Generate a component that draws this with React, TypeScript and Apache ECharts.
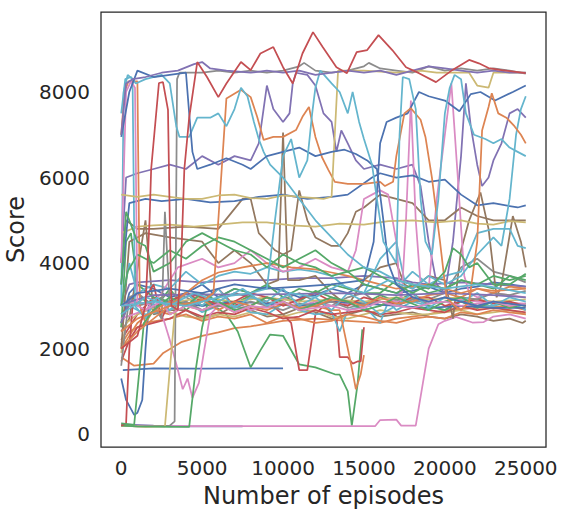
import React, { useEffect, useRef } from "react";
import * as echarts from "echarts";

// seaborn "deep" palette
const BLUE = "#4C72B0", ORANGE = "#DD8452", GREEN = "#55A868", RED = "#C44E52", PURPLE = "#8172B3";
const BROWN = "#937860", PINK = "#DA8BC3", GRAY = "#8C8C8C", YELLOW = "#CCB974", CYAN = "#64B5CD";

const X_TICKS = [0, 5000, 10000, 15000, 20000, 25000];
const Y_TICKS = [0, 2000, 4000, 6000, 8000];

// each run: [episode, score] points
const redTop = [[0,2000],[1000,2300],[1500,3000],[1750,5000],[1850,6200],[2330,8210],[2580,8230],[2890,7580],[3000,5000],[3100,3000],[3500,2900],[3700,4000],[3900,6200],[4200,7400],[4700,8700],[5300,8350],[6000,7880],[6500,8200],[7400,8700],[8000,8510],[8600,8900],[9400,9050],[10000,8580],[10600,8200],[11200,8900],[11850,9400],[12450,9050],[13300,8580],[13950,8440],[14550,8930],[15200,8980],[15900,9330],[16750,8980],[17600,8580],[18400,8440],[19450,8230],[20450,8510],[21500,8750],[22100,8670],[22700,8560],[23500,8510],[25000,8440]];
const purpleTop = [[0,7000],[300,8200],[700,8300],[1500,8350],[2500,8450],[3500,8500],[4500,8650],[5000,8700],[5500,8550],[6500,8500],[8000,8450],[9000,8500],[10000,8450],[11000,8500],[12000,8400],[13000,8450],[14000,8500],[15000,8450],[16000,8500],[17000,8400],[18000,8500],[19000,8600],[20000,8550],[21000,8500],[22000,8450],[23000,8500],[24000,8450],[25000,8450]];
const grayTop = [[0,200],[1000,180],[2000,190],[3000,200],[3300,300],[3450,8300],[3600,8450],[5000,8450],[6000,8500],[7000,8450],[8000,8500],[9000,8450],[10000,8500],[11000,8600],[11300,8680],[12000,8500],[13000,8450],[14000,8500],[15000,8600],[15300,8680],[16000,8550],[17000,8500],[18000,8450],[19000,8600],[20000,8500],[21000,8550],[22000,8500],[23000,8550],[24000,8500],[25000,8430]];
const yellowJump = [[0,5600],[1000,5550],[2000,5600],[3000,5550],[4000,5500],[5000,5500],[6000,5580],[7000,5600],[8000,5520],[9000,5500],[10000,5580],[11000,5550],[12000,5520],[12500,5500],[13000,5550],[13400,8500],[15000,8500],[17000,8450],[18500,8500],[19500,8450],[21500,8450],[22000,8150],[22700,8100],[23000,8450],[25000,8450]];
const yellowMid = [[0,4700],[1000,4850],[2000,4880],[3000,4900],[4500,4850],[6000,4900],[7500,4950],[9000,4950],[10500,4880],[12000,4850],[13500,4920],[15000,4900],[16500,4980],[18000,5000],[19500,4950],[21000,5000],[22000,4920],[23000,4900],[24000,4980],[25000,4950]];
const blueTop = [[0,6950],[500,8000],[1000,8500],[2000,8350],[3000,8400],[4000,8450],[4200,7500],[4400,6600],[4700,6200],[5500,6300],[6500,6450],[7500,6300],[8000,6200],[9000,6500],[10000,6600],[11000,6700],[12000,6500],[13000,6600],[13800,6650],[14500,6550],[15200,6400],[15800,6200],[16200,5000],[16500,4000],[17000,3500],[18000,3200],[19000,3100],[20000,3200],[21000,3100],[22000,3000],[23000,3100],[24000,3050],[25000,3000]];
const blueRise = [[0,3000],[1000,3300],[3000,3400],[5000,3300],[7000,3500],[9000,3400],[11000,3450],[13000,3500],[15000,3600],[15600,4500],[16000,6800],[16400,7300],[17000,7400],[17700,7500],[18400,8000],[19000,7900],[20000,7800],[20900,7550],[21600,7950],[22200,8000],[23100,7800],[24200,8000],[25000,8150]];
const blueMid = [[0,3500],[500,5400],[1500,5500],[2500,5450],[4000,5500],[5500,5420],[7000,5450],[8500,5550],[10000,5600],[11500,5500],[13000,5550],[14000,5600],[15500,6000],[16000,6100],[17000,6000],[18000,6050],[19000,5900],[20000,5950],[21000,5600],[22000,5350],[23000,5400],[24500,5300],[25000,5350]];
const orangeSpike = [[0,7000],[200,8000],[450,8250],[1000,8250],[1150,3000],[1500,2600],[2000,2900],[3000,3100],[4000,3000],[5000,3150],[6000,2900],[7000,3100],[8000,3000],[9000,3200],[10000,3100],[11000,2950],[12000,3000],[13000,3150],[14000,3100],[15000,3000],[16000,3200],[17000,3050],[18000,3100],[19000,3250],[20000,3300],[21000,3200],[22000,3400],[23000,3300],[24000,3450],[25000,3400]];
const orangeHigh = [[0,2400],[1000,2700],[3000,3000],[5000,3100],[5700,3300],[6000,5000],[6500,7850],[7400,8050],[8000,7880],[8400,7420],[8800,6880],[9400,6950],[10000,6950],[10800,7110],[11200,7420],[11600,7650],[12000,6950],[12400,6480],[12800,6180],[13200,5900],[14000,5850],[15000,5850],[16000,5900],[16300,5800],[16800,5900],[17000,6500],[17500,7500],[17900,7620],[18500,7350],[18800,6950],[19200,6000],[19700,4500],[20100,3200],[20600,3000],[21000,2900],[21500,3100],[22000,4500],[22300,7100],[22700,7650],[22900,7970],[23300,7500],[23800,7400],[24300,7200],[24700,7000],[25000,6800]];
const pinkSpike = [[0,4000],[300,8000],[600,8250],[850,8100],[1000,3000],[1500,2900],[2500,3100],[3000,2800],[4000,3000],[5000,2900],[6000,3050],[7000,2850],[8000,3000],[9000,2950],[10000,3100],[11000,2900],[12000,2950],[13000,3000],[14000,2900],[15000,2950],[16000,3100],[17000,3000],[18000,2950],[19000,3050],[20000,3100],[21000,3000],[22000,3050],[23000,3100],[24000,3000],[25000,3050]];
const cyanSpike = [[0,3000],[150,8000],[400,8400],[700,8300],[850,3000],[1500,2700],[2200,3200],[3000,2900],[4000,3300],[5000,3000],[6000,3400],[7000,2950],[8000,3200],[9000,3100],[10000,3400],[11000,3000],[12000,3200],[13000,2900],[14000,3300],[15000,3100],[16000,2800],[17000,3000],[18000,3300],[19000,2950],[20000,3200],[21000,3100],[22000,3300],[23000,3000],[24000,3200],[25000,3100]];
const cyanA = [[0,7500],[250,8300],[600,8350],[900,8200],[1500,8300],[2500,8400],[3000,8200],[3400,7200],[3600,6950],[4200,6950],[4700,7400],[5500,7400],[6000,7500],[6500,7200],[7000,7600],[7400,8100],[7800,7900],[8200,7300],[8500,6900],[8800,6600],[9200,6300],[10000,6000],[11000,5500],[12000,5000],[13000,4600],[14000,4200],[15000,3900],[16000,3800],[17000,3600],[18000,3500],[20000,3400],[22000,3500],[25000,3300]];
const cyanB = [[0,3000],[2000,3100],[4000,3000],[6000,3200],[8000,3300],[9000,3400],[9500,5000],[10000,6500],[10500,6900],[11000,6000],[11500,6400],[11800,7500],[12000,8100],[12300,8500],[13000,8200],[13500,8000],[14000,7500],[14300,8000],[14700,7300],[15000,6900],[15500,6300],[15800,5500],[16200,4500],[17000,4000],[17200,7000],[17400,8350],[17800,8300],[18200,7600],[18500,5500],[18800,4500],[19200,4200],[19600,5500],[20000,7500],[20300,8100],[20600,8400],[21000,8300],[21300,7500],[21800,7000],[22500,6900],[23000,6800],[23500,6900],[24000,6700],[24500,6600],[25000,6500]];
const cyanLate = [[0,2800],[1500,3200],[3000,3000],[4500,3300],[6000,3100],[7500,3400],[9000,3000],[10500,3300],[12000,3200],[13500,3500],[15000,3300],[16500,3600],[18000,3400],[19000,3700],[20000,3500],[21000,3700],[22000,4200],[23000,4600],[23500,4400],[24000,5500],[24400,7000],[24700,7600],[25000,7900]];
const cyanMid = [[0,3000],[500,4000],[1000,3300],[2000,3500],[3000,3400],[4000,3800],[5000,3500],[6000,3700],[7000,3800],[8000,3750],[9000,3900],[10000,3800],[11000,3850],[12000,3800],[13000,3700],[14000,3400],[15000,3300],[16000,4100],[17000,4500],[17500,3600],[18000,3800],[19000,3500],[20000,3700],[21000,3800],[22000,4700],[23000,4800],[24000,4800],[24500,4400],[25000,4350]];
const purpleHigh = [[0,4000],[300,6000],[1000,6100],[2000,6200],[3000,6300],[4000,6200],[5000,6500],[6000,6300],[7000,6500],[8000,6400],[8500,6800],[9000,8150],[9400,7600],[10000,7300],[10400,7500],[10600,8200],[10800,8450],[11500,8400],[12000,8150],[12500,7500],[13000,7300],[13300,6600],[13600,7100],[14000,6800],[14500,6400],[15000,6200],[16000,6300],[17000,6200],[18000,6300],[18500,5800],[19000,4500],[19500,3500],[20000,3300],[20500,4500],[21000,6500],[21300,8200],[21600,7200],[22000,6300],[22300,5800],[22700,6000],[23000,6400],[23500,6800],[24000,7500],[24500,7600],[25000,7400]];
const brownHigh = [[0,4000],[300,5000],[1000,4800],[2000,4800],[4000,4850],[6000,4800],[7500,5500],[8000,5500],[8500,4700],[9500,4300],[10000,4200],[10500,4300],[11000,5700],[11500,5000],[12000,4600],[13000,4400],[13500,4400],[14000,4700],[14500,5200],[15000,5300],[16000,5600],[17000,5500],[18000,5400],[19000,5000],[20000,5000],[21000,5300],[22000,5100],[23000,5000],[24000,5000],[25000,5000]];
const brownSwing = [[0,2000],[500,4500],[1500,4700],[3000,4600],[5000,4500],[6000,4000],[7000,4300],[8000,4000],[9000,3500],[9700,3600],[10000,7050],[10300,3600],[11000,3600],[12000,3700],[13000,3300],[14000,3000],[15000,3600],[16000,3900],[17000,4000],[17500,3500],[18000,3400],[19000,3700],[20000,3600],[20500,2700],[21000,4300],[21500,5000],[22200,5650],[22700,4800],[23200,3200],[23500,3500],[24200,5100],[24700,4500],[25000,3900]];
const greenHigh = [[0,3500],[300,5200],[600,4900],[1000,4500],[1500,4400],[2000,3800],[3000,4000],[4000,4500],[5000,4700],[6000,4500],[7000,4300],[8000,4200],[9000,3900],[10000,4200],[11000,4000],[12000,3900],[13000,3700],[14000,3800],[15000,3500],[16000,3400],[17000,3300],[18000,3500],[19000,3400],[20000,3800],[20500,4350],[21000,4200],[21500,3900],[22000,4000],[23000,3500],[24000,3500],[25000,3750]];
const grayBand = [[0,2500],[500,3200],[1000,3000],[2000,3100],[3000,3300],[4000,3200],[5000,3000],[6000,3100],[7000,3300],[8000,3200],[9000,3050],[10000,3150],[11000,3300],[12000,3100],[13000,3000],[14000,3200],[15000,3300],[16000,3000],[17000,3150],[18000,3100],[19000,3150],[20000,3300],[21000,3900],[22000,4100],[23000,3800],[24000,3700],[25000,3550]];
const redDip = [[0,2200],[1000,2800],[2000,3200],[3000,3000],[4000,3300],[5000,3100],[6000,3400],[7000,3000],[8000,3200],[9000,3100],[10000,2800],[10500,2600],[11000,1500],[11500,1500],[12000,2800],[12500,3000],[13300,2750],[13500,1800],[14000,1800],[14300,1650],[14600,1700],[14800,1700],[15000,2500]];
const orangeDip = [[0,2000],[1000,2600],[2000,2900],[3000,2800],[4000,3000],[5000,2900],[6000,3050],[7000,2850],[8000,3000],[9000,2900],[10000,3050],[11000,2950],[12000,3000],[13000,2900],[13500,2900],[14000,2000],[14300,1450],[14500,1050],[14800,1400],[15000,1850]];
const orangeSlow = [[0,1800],[800,1600],[2000,1650],[2600,1900],[3700,2150],[5000,2300],[6000,2380],[7000,2480],[8000,2520],[10000,2650],[12000,2700],[14000,2650],[16000,2600],[17000,2700],[18000,2750],[19000,2800],[20000,2900],[22000,2950],[24000,3000],[25000,2900]];
const orangeMid = [[0,2000],[1000,2400],[2000,2700],[3000,3000],[4000,3300],[5000,3600],[6000,3780],[7500,3900],[9000,4000],[10500,3900],[12000,3850],[13000,3780],[14000,3700],[15000,3600],[16000,3500],[17000,3400],[18000,3450],[19000,3500],[20000,3400],[21000,3300],[22000,3400],[23000,3350],[25000,3400]];
const greenDip = [[0,2800],[1000,3300],[2000,2900],[3000,3400],[4000,2900],[5000,3200],[6500,2800],[7200,2400],[8000,1560],[8600,1960],[9200,2330],[10000,2300],[11000,1630],[12000,1560],[13200,1400],[13500,1390],[14000,1000],[14250,200],[14600,1150],[14900,2450]];
const purpleBand = [[0,3000],[500,3500],[1000,3550],[3000,3600],[5000,3550],[7000,3600],[9000,3600],[11000,3650],[13000,3650],[15000,3700],[17000,3650],[18000,3550],[19000,3500],[21000,3550],[23000,3500],[25000,3450]];
const purpleBand2 = [[0,2600],[500,3100],[2000,3250],[5000,3270],[8000,3260],[11000,3280],[14000,3300],[17000,3250],[20000,3300],[23000,3250],[25000,3200]];
const blueBand = [[0,2600],[500,3300],[1000,3500],[2000,3400],[3000,3200],[4000,3300],[5000,3500],[6000,3200],[7000,3400],[8000,3300],[9000,3450],[10000,3350],[11000,3200],[12000,3250],[13000,3400],[14000,3300],[15000,3500],[16000,3400],[17000,3300],[18000,3350],[19000,3450],[20000,3300],[21000,3400],[22000,3450],[23000,3550],[24000,3500],[25000,3450]];
const redBand = [[0,1700],[500,2200],[1000,2500],[2000,2600],[3000,2700],[4000,2900],[5000,2750],[6000,2850],[7000,2800],[8000,2950],[9000,2850],[10000,2700],[11000,2750],[12000,2900],[13000,2800],[14000,2850],[15000,2900],[16000,2800],[17000,2850],[18000,2950],[19000,2900],[20000,2850],[21000,3000],[22000,2900],[23000,2950],[24000,2900],[25000,2850]];
const orangeBand = [[0,2100],[500,2400],[1500,2600],[3000,2700],[4000,2800],[5000,2650],[6000,2750],[7000,2700],[8000,2800],[9000,2600],[10000,2750],[11000,2700],[12000,2600],[13000,2650],[14000,2800],[15000,2750],[16000,2650],[17000,2600],[18000,2700],[19000,2750],[20000,2700],[21000,2850],[22000,2800],[23000,2900],[24000,2850],[25000,2800]];
const greenBand = [[0,2500],[300,4500],[600,4700],[1000,3500],[2000,3200],[3000,3100],[4000,3300],[5000,3000],[6000,3150],[7000,3050],[8000,3250],[9000,3000],[10000,3200],[11000,3100],[12000,3350],[13000,3200],[14000,3100],[15000,3050],[16000,3250],[17000,3100],[18000,3300],[19000,3000],[20000,2900],[21000,3100],[22000,2950],[23000,3100],[24000,3050],[25000,3000]];
const greenBand2 = [[0,3000],[400,3800],[1000,4200],[2000,4000],[3000,4300],[4000,4100],[5000,4400],[6000,4600],[7000,4500],[8000,4300],[9000,4100],[10000,3900],[11000,4100],[12000,4300],[13000,4000],[14000,3800],[15000,3900],[16000,3700],[17000,3500],[18000,3300],[19000,3500],[20000,3400],[21000,3600],[22000,3500],[23000,3700],[24000,3600],[25000,3700]];
const cyanBand = [[0,2800],[500,3000],[1500,2800],[3000,2900],[4000,3100],[5000,2850],[6000,3000],[7000,3000],[8000,2850],[9000,2800],[10000,3050],[11000,2900],[12000,2800],[13000,2850],[13500,2400],[14000,2900],[15000,3000],[16000,2600],[16500,3100],[17000,2900],[18000,3100],[19000,3000],[20000,2900],[21000,3100],[22000,3000],[23000,3000],[24000,3100],[25000,2900]];
const brownBand = [[0,2400],[500,2700],[1500,5000],[2000,2800],[3000,2900],[4000,2900],[5000,2700],[6000,2800],[7000,3000],[8000,2900],[9000,2750],[10000,2800],[11000,2950],[12000,2850],[13000,2700],[14000,2800],[15000,2900],[16000,2750],[17000,2800],[18000,2850],[19000,2750],[20000,2700],[21000,2800],[22000,2750],[23000,2650],[24000,2700],[24800,2600],[25000,2650]];
const grayBand2 = [[0,1600],[200,2300],[500,3200],[1000,3300],[2000,3000],[2500,2700],[2700,5200],[3000,3000],[4000,3100],[5000,2900],[6000,3000],[7000,2950],[8000,3100],[9000,3000],[10000,2900],[11000,3050],[12000,3000],[13000,3100],[14000,2950],[15000,3050],[16000,3100],[17000,3000],[18000,3150],[19000,3050],[20000,3100],[21000,3200],[22000,3150],[23000,3300],[24000,3250],[25000,3350]];
const yellowBand = [[0,1900],[300,2600],[1000,2800],[2000,2950],[3000,2850],[4000,2750],[5000,2700],[6000,2800],[7000,2750],[8000,2850],[9000,2800],[10000,2750],[11000,2850],[12000,2900],[13000,2750],[14000,2700],[15000,2800],[16000,2900],[17000,2850],[18000,2800],[19000,2800],[20000,2850],[21000,2900],[22000,2800],[23000,2850],[24000,2900],[25000,2800]];
const pinkDrop = [[0,3000],[1000,3100],[2000,3000],[2600,2700],[3000,2200],[3500,1500],[3800,1050],[4100,1300],[4400,850],[4800,1200],[5100,1900],[5500,2800],[6000,3000],[7000,3100],[8000,2900],[9000,3000],[10000,3200],[11000,3000],[12000,3100],[13000,3000],[14000,3050],[15000,2950],[16000,3200],[17000,3100],[18000,3150],[19000,3100],[20000,3200],[22000,3100],[25000,3050]];
const pinkPeaks = [[0,2700],[1500,2900],[2500,3300],[3500,3900],[5000,4100],[6000,3900],[7000,4000],[8000,4300],[9000,4000],[10000,3800],[11000,3900],[12000,4100],[13000,3900],[14000,3800],[14500,4300],[15000,5500],[15500,5600],[16000,5700],[16500,5600],[17000,4500],[17300,3000],[17600,5000],[17900,7800],[18200,5000],[18500,3500],[19000,3400],[19500,5500],[20000,7000],[20400,8200],[20800,6000],[21200,3700],[21500,3300],[22000,3200],[23000,3300],[25000,3200]];
const purpleLow = [[0,230],[2000,200],[4000,180],[6000,180],[7500,180]];
const pinkLow = [[0,250],[500,200],[2000,190],[7400,190],[15700,190],[16000,330],[17000,340],[17300,200],[18200,200],[19000,2000],[19600,2570],[20000,2650],[20700,2740],[21000,2700],[21700,2610],[22400,2620],[23000,2750],[24000,2800],[25000,2700]];
const blueFlat = [[100,1500],[2000,1540],[5000,1530],[8000,1540],[10000,1540]];
const greenLate = [[0,200],[1000,180],[3000,170],[4200,170],[4600,1500],[5000,2500],[5300,3000],[6000,3200],[7000,3400],[8000,3300],[9000,3500],[10000,3200],[11000,3400],[12000,3300],[13000,3500],[14000,3400],[15000,3300],[16000,3300],[17000,3600],[18000,3500],[19000,3300],[20000,3400],[21000,3600],[22000,3500],[23000,3400],[24000,3700],[25000,3600]];
const yellowLate = [[0,200],[1500,170],[2700,180],[3000,1500],[3300,2800],[3600,3100],[5000,3200],[7000,3100],[9000,3200],[11000,3100],[13000,3150],[15000,3100],[17000,3200],[19000,3150],[21000,3200],[23000,3100],[25000,3150]];
const greenEarly = [[0,250],[800,220],[1200,1800],[1400,2600],[2000,2900],[3000,3200],[4000,3000],[5000,3300],[6000,3100],[7000,2900],[8000,3000],[9000,3200],[10000,3100],[11000,2900],[12000,3050],[13000,3200],[14000,3100],[15000,2900],[16000,3000],[17000,3200],[18000,3050],[19000,2900],[20000,3100],[21000,3200],[22000,3000],[23000,3100],[24000,2950],[25000,3050]];
const blueCurve = [[0,1300],[300,800],[800,450],[1000,500],[1300,800],[1500,2000],[1700,3000],[3000,3100],[5000,3000],[7000,3100],[9000,3050],[11000,3000],[13000,3100],[15000,3050],[17000,3000],[19000,2950],[21000,3000],[23000,2950],[25000,2950]];
const redEarly = [[0,200],[300,250],[500,2000],[700,3000],[1500,3200],[2000,3500],[2500,2700],[3000,3100],[4000,3300],[5000,3200],[6000,3000],[7000,3100],[8000,3300],[9000,3200],[10000,3000],[11000,3150],[12000,3300],[13000,3100],[14000,3000],[15000,3200],[16000,3100],[17000,3050],[18000,3200],[19000,3200],[20000,3000],[21000,3100],[22000,3150],[23000,3050],[24000,3100],[25000,3000]];

const RUNS: [number[][], string][] = [
  [blueFlat, BLUE], [orangeSlow, ORANGE], [greenDip, GREEN], [redDip, RED], [purpleLow, PURPLE],
  [brownBand, BROWN], [pinkLow, PINK], [grayBand, GRAY], [yellowBand, YELLOW], [cyanBand, CYAN],
  [blueBand, BLUE], [orangeBand, ORANGE], [greenBand, GREEN], [redBand, RED], [purpleBand, PURPLE],
  [brownSwing, BROWN], [pinkDrop, PINK], [grayTop, GRAY], [yellowLate, YELLOW], [cyanMid, CYAN],
  [blueCurve, BLUE], [orangeDip, ORANGE], [greenLate, GREEN], [redEarly, RED], [purpleHigh, PURPLE],
  [brownHigh, BROWN], [pinkPeaks, PINK], [grayBand2, GRAY], [yellowMid, YELLOW], [cyanSpike, CYAN],
  [blueMid, BLUE], [orangeSpike, ORANGE], [greenEarly, GREEN], [purpleBand2, PURPLE],
  [orangeMid, ORANGE], [greenBand2, GREEN], [pinkSpike, PINK], [cyanLate, CYAN],
  [blueRise, BLUE], [orangeHigh, ORANGE], [greenHigh, GREEN], [yellowJump, YELLOW], [cyanA, CYAN],
  [blueTop, BLUE], [cyanB, CYAN], [purpleTop, PURPLE], [redTop, RED],
];

const FONT = "DejaVu Sans";
const INK = "#262626";

export default function App() {
  const ref = useRef<HTMLDivElement>(null);
  useEffect(() => {
    if (!ref.current) return;
    const chart = echarts.init(ref.current, undefined, { renderer: "svg" });
    chart.setOption({
      animation: false,
      backgroundColor: "#ffffff",
      grid: {
        left: 101, top: 12, right: 23, bottom: 65, show: true,
        borderColor: INK, borderWidth: 1.25, outerBoundsMode: "none", containLabel: false,
      },
      xAxis: {
        type: "value", min: -1250, max: 26250,
        axisLine: { show: false }, axisTick: { show: false }, splitLine: { show: false },
        axisLabel: {
          customValues: X_TICKS, fontSize: 20, color: INK, fontFamily: FONT, margin: 11,
          formatter: (v: number) => String(v),
        },
        name: "Number of episodes", nameLocation: "middle", nameGap: 37,
        nameTextStyle: { fontSize: 24, color: INK, fontFamily: FONT },
      },
      yAxis: {
        type: "value", min: -300, max: 9870,
        axisLine: { show: false }, axisTick: { show: false }, splitLine: { show: false },
        axisLabel: {
          customValues: Y_TICKS, fontSize: 20, color: INK, fontFamily: FONT, margin: 11,
          formatter: (v: number) => String(v),
        },
        name: "Score", nameLocation: "middle", nameGap: 70,
        nameTextStyle: { fontSize: 24, color: INK, fontFamily: FONT },
      },
      series: RUNS.map(([data, color], i) => ({
        name: "run" + i, type: "line", data, showSymbol: false, symbol: "none",
        lineStyle: { width: 1.75, color }, itemStyle: { color }, z: 2 + i * 0.01,
      })),
    });
    return () => chart.dispose();
  }, []);
  return <div ref={ref} style={{ width: 569, height: 512, position: "absolute", left: 0, top: 0 }} />;
}
